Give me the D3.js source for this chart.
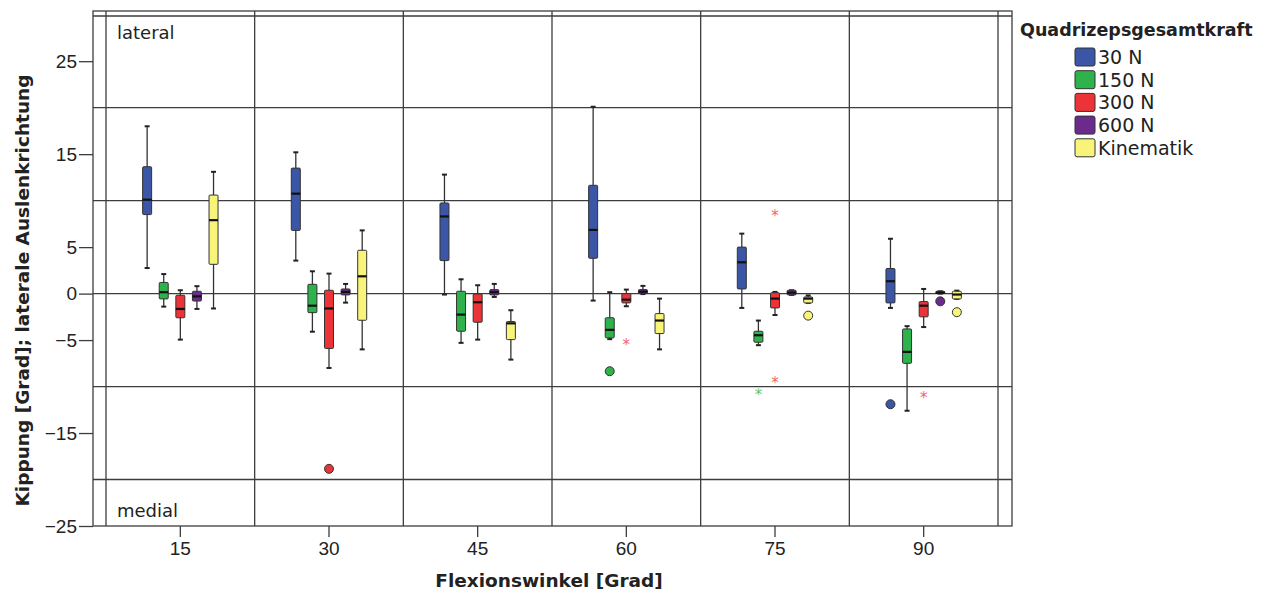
<!DOCTYPE html>
<html>
<head>
<meta charset="utf-8">
<script src="https://cdn.jsdelivr.net/npm/d3@7"></script>
<style>
  body { margin: 0; background: #fff; }
  svg { font-family: "DejaVu Sans", sans-serif; }
</style>
</head>
<body>
<div id="chart"></div>
<script>
// flexion angles and force levels
const angles = ['15', '30', '45', '60', '75', '90'];
const forces = ['30 N', '150 N', '300 N', '600 N', 'Kinematik'];
const colors = ['#3b56a6', '#2eb24b', '#ec3338', '#6b2b8c', '#f8f47a'];

// [lower whisker, Q1, median, Q3, upper whisker] per angle
const n30 = [[2.75, 8.5, 10.1, 13.65, 18.0], [3.55, 6.8, 10.75, 13.5, 15.2], [-0.1, 3.55, 8.3, 9.75, 12.8],
    [-0.75, 3.8, 6.85, 11.65, 20.1], [-1.54, 0.5, 3.37, 5.0, 6.45], [-1.54, -1.0, 1.33, 2.7, 5.9]];
const n150 = [[-1.4, -0.57, 0.15, 1.2, 2.1], [-4.1, -2.05, -1.3, 1.0, 2.4], [-5.3, -4.05, -2.26, 0.25, 1.54],
    [-4.9, -4.76, -3.9, -2.6, 0.15], [-5.55, -5.23, -4.48, -4.05, -2.9], [-12.6, -7.5, -6.27, -3.8, -3.5]];
const n300 = [[-4.95, -2.6, -1.65, -0.18, 0.36], [-8.0, -5.9, -1.6, 0.36, 2.15], [-4.95, -3.08, -0.93, -0.04, 0.9],
    [-1.36, -1.0, -0.65, 0.0, 0.43], [-2.3, -1.54, -0.54, 0.1, 0.18], [-3.6, -2.5, -1.3, -0.86, 0.5]];
const n600 = [[-1.65, -0.8, -0.3, 0.25, 0.8], [-0.97, -0.14, 0.18, 0.5, 1.04], [-0.36, -0.14, 0.15, 0.43, 1.04],
    [-0.05, 0.0, 0.2, 0.43, 0.83], [-0.14, -0.14, 0.1, 0.36, 0.36], [0.0, 0.0, 0.1, 0.25, 0.25]];
const kinematik = [[-1.6, 3.15, 7.9, 10.6, 13.1], [-6.0, -2.87, 1.86, 4.66, 6.8], [-7.1, -4.95, -3.2, -3.0, -1.79],
    [-6.0, -4.3, -2.9, -2.15, -0.54], [-1.0, -1.0, -0.54, -0.36, -0.2], [-0.57, -0.57, -0.1, 0.25, 0.32]];
const boxStats = [n30, n150, n300, n600, kinematik];

// outliers: [angle, force index, value, 'o' circle | '*' extreme]
const outliers = [
    ['30', 2, -18.85, 'o'],
    ['60', 1, -8.35, 'o'], ['60', 2, -5.3, '*'],
    ['75', 2, 8.6, '*'], ['75', 2, -9.4, '*'], ['75', 1, -10.7, '*'], ['75', 4, -2.37, 'o'],
    ['90', 0, -11.9, 'o'], ['90', 2, -11.0, '*'], ['90', 3, -0.83, 'o'], ['90', 4, -2.0, 'o']
];

const yTicks = [25, 15, 5, 0, -5, -15, -25];
const refLines = [20, 10, 0, -10, -20];

const width = 1271, height = 593;
const frame = { left: 93, right: 1012, top: 11, bottom: 526 };
const inner = { left: 106, right: 998, top: 16 };
const lineCol = '#3d3d3d';

const svg = d3.select('#chart').append('svg')
    .attr('width', width)
    .attr('height', height);

const y = d3.scaleLinear().domain([-25, 30.4]).range([frame.bottom, frame.top]);
const x = d3.scaleBand().domain(angles).range([inner.left, inner.right]);
const xOff = d3.scalePoint().domain(forces).range([-33.2, 33.2]);

// frame and grid
const grid = svg.append('g').attr('stroke', lineCol).attr('stroke-width', 1.3);
grid.append('rect')
    .attr('x', frame.left).attr('y', frame.top)
    .attr('width', frame.right - frame.left).attr('height', frame.bottom - frame.top)
    .attr('fill', 'none');
grid.append('line').attr('x1', frame.left).attr('x2', frame.right).attr('y1', inner.top).attr('y2', inner.top);
grid.selectAll('.ref')
    .data(refLines)
    .join('line')
    .attr('x1', frame.left).attr('x2', frame.right)
    .attr('y1', d => y(d)).attr('y2', d => y(d));
const seps = [inner.left].concat(angles.map(a => x(a) + x.bandwidth()));
grid.selectAll('.sep')
    .data(seps)
    .join('line')
    .attr('x1', d => d).attr('x2', d => d)
    .attr('y1', frame.top).attr('y2', frame.bottom);

// axes
const yAxis = svg.append('g')
    .attr('transform', `translate(${frame.left},0)`)
    .call(d3.axisLeft(y).tickValues(yTicks).tickSize(14).tickPadding(2).tickFormat(d => d < 0 ? '\u2212' + Math.abs(d) : d));
yAxis.select('.domain').remove();
yAxis.selectAll('line').attr('stroke', lineCol).attr('stroke-width', 1.3);
yAxis.selectAll('text').attr('font-size', 19).attr('fill', '#222');

const xAxis = svg.append('g')
    .attr('transform', `translate(0,${frame.bottom})`)
    .call(d3.axisBottom(x).tickSize(11).tickPadding(5));
xAxis.select('.domain').remove();
xAxis.selectAll('line').attr('stroke', lineCol).attr('stroke-width', 1.3);
xAxis.selectAll('text').attr('font-size', 19).attr('fill', '#222');

// axis titles
svg.append('text')
    .attr('x', 549)
    .attr('y', 587)
    .attr('text-anchor', 'middle')
    .attr('font-size', 18.5).attr('font-weight', 'bold').attr('fill', '#222')
    .text('Flexionswinkel [Grad]');
svg.append('text')
    .attr('transform', `translate(29,${(frame.top + frame.bottom) / 2 + 22}) rotate(-90)`)
    .attr('text-anchor', 'middle')
    .attr('font-size', 18.5).attr('font-weight', 'bold').attr('fill', '#222')
    .text('Kippung [Grad]; laterale Auslenkrichtung');

svg.append('text').attr('x', 117).attr('y', 39).attr('font-size', 18).attr('fill', '#222').text('lateral');
svg.append('text').attr('x', 117).attr('y', 517).attr('font-size', 18).attr('fill', '#222').text('medial');

// boxes
const boxW = 9, capW = 5;
const boxes = [];
boxStats.forEach((ser, si) => {
    ser.forEach((s, ai) => {
        boxes.push({ angle: angles[ai], force: forces[si], color: colors[si], s: s });
    });
});

const bx = d => x(d.angle) + x.bandwidth() / 2 + xOff(d.force);

const box = svg.append('g')
    .selectAll('g')
    .data(boxes)
    .join('g');

box.append('line')
    .attr('x1', bx).attr('x2', bx)
    .attr('y1', d => y(d.s[0])).attr('y2', d => y(d.s[4]))
    .attr('stroke', '#333').attr('stroke-width', 1.3);
box.append('line')
    .attr('x1', d => bx(d) - capW / 2).attr('x2', d => bx(d) + capW / 2)
    .attr('y1', d => y(d.s[4])).attr('y2', d => y(d.s[4]))
    .attr('stroke', '#222').attr('stroke-width', 2);
box.append('line')
    .attr('x1', d => bx(d) - capW / 2).attr('x2', d => bx(d) + capW / 2)
    .attr('y1', d => y(d.s[0])).attr('y2', d => y(d.s[0]))
    .attr('stroke', '#222').attr('stroke-width', 2);
box.append('rect')
    .attr('x', d => bx(d) - boxW / 2)
    .attr('y', d => y(d.s[3]))
    .attr('width', boxW)
    .attr('height', d => Math.max(2, y(d.s[1]) - y(d.s[3])))
    .attr('rx', 1)
    .attr('fill', d => d.color)
    .attr('stroke', '#333').attr('stroke-width', 1);
box.append('line')
    .attr('x1', d => bx(d) - boxW / 2).attr('x2', d => bx(d) + boxW / 2)
    .attr('y1', d => y(d.s[2])).attr('y2', d => y(d.s[2]))
    .attr('stroke', '#111').attr('stroke-width', 2.2);

// outliers
const out = outliers.map(o => ({ angle: o[0], force: forces[o[1]], color: colors[o[1]], v: o[2], kind: o[3] }));
svg.append('g')
    .selectAll('circle')
    .data(out.filter(d => d.kind === 'o'))
    .join('circle')
    .attr('cx', bx).attr('cy', d => y(d.v))
    .attr('r', 4.5)
    .attr('fill', d => d.color)
    .attr('stroke', '#333').attr('stroke-width', 1);
svg.append('g')
    .selectAll('text')
    .data(out.filter(d => d.kind === '*'))
    .join('text')
    .attr('x', bx).attr('y', d => y(d.v) + 7)
    .attr('text-anchor', 'middle')
    .attr('font-size', 15)
    .attr('fill', d => d3.interpolateRgb(d.color, '#fff')(0.25))
    .text('*');

// legend
const legend = svg.append('g').attr('transform', 'translate(1020,0)');
legend.append('text')
    .attr('x', 0).attr('y', 36)
    .attr('font-size', 17.5).attr('font-weight', 'bold').attr('fill', '#222')
    .text('Quadrizepsgesamtkraft');
const item = legend.selectAll('.item')
    .data(forces)
    .join('g')
    .attr('transform', (d, i) => `translate(55,${48 + i * 22.7})`);
item.append('rect')
    .attr('width', 20).attr('height', 18).attr('rx', 2)
    .attr('fill', (d, i) => colors[i])
    .attr('stroke', '#333').attr('stroke-width', 1);
item.append('text')
    .attr('x', 23).attr('y', 16)
    .attr('font-size', 19).attr('fill', '#222')
    .text(d => d);
</script>
</body>
</html>
